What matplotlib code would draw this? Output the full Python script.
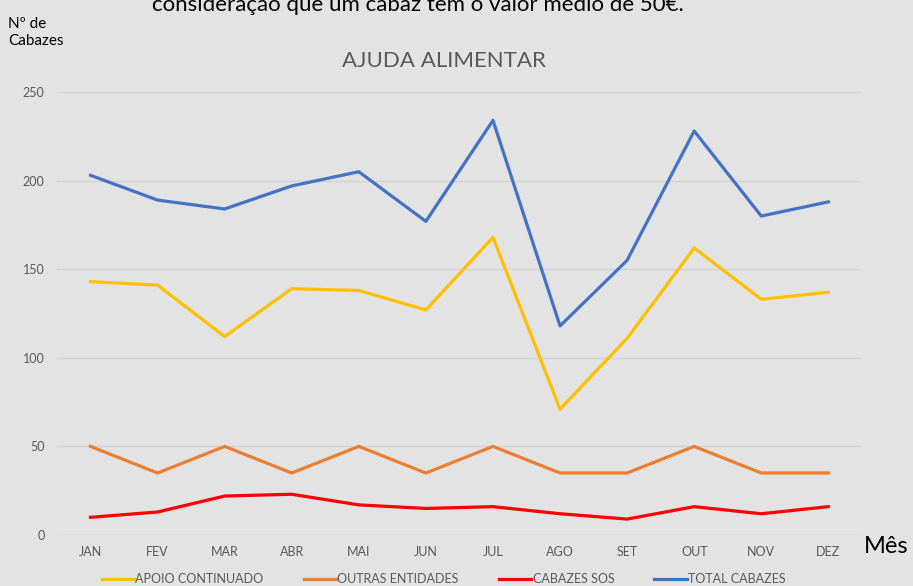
import matplotlib.pyplot as plt

meses = ['JAN', 'FEV', 'MAR', 'ABR', 'MAI', 'JUN', 'JUL', 'AGO', 'SET', 'OUT', 'NOV', 'DEZ']
apoio = [143, 141, 112, 139, 138, 127, 168, 71, 111, 162, 133, 137]
outras = [50, 35, 50, 35, 50, 35, 50, 35, 35, 50, 35, 35]
sos = [10, 13, 22, 23, 17, 15, 16, 12, 9, 16, 12, 16]
total = [203, 189, 184, 197, 205, 177, 234, 118, 155, 228, 180, 188]

plt.rcParams['font.family'] = ['Lato', 'DejaVu Sans']
bg = '#e3e3e3'

fig = plt.figure(figsize=(9.13, 5.86), dpi=100, facecolor=bg)
ax = fig.add_axes([0.0624, 0.087, 0.8816, 0.756], facecolor=bg)

x = range(len(meses))
ax.plot(x, apoio, color='#FFC000', lw=2.3, label='APOIO CONTINUADO')
ax.plot(x, outras, color='#ED7D31', lw=2.3, label='OUTRAS ENTIDADES')
ax.plot(x, sos, color='#FF0000', lw=2.3, label='CABAZES SOS')
ax.plot(x, total, color='#4472C4', lw=2.3, label='TOTAL CABAZES')

ax.set_xlim(-0.5, 11.5)
ax.set_ylim(0, 250)
ax.set_yticks(range(0, 251, 50))
ax.set_xticks(list(x))
ax.set_xticklabels(meses)
ax.grid(axis='y', color='#d3d3d3', lw=1)
ax.set_axisbelow(True)
for s in ax.spines.values():
    s.set_visible(False)
ax.tick_params(length=0, colors='#595959', labelsize=9)
ax.tick_params(axis='y', pad=9)
ax.tick_params(axis='x', pad=8)

fig.text(0.486, 0.896, 'AJUDA ALIMENTAR', ha='center', va='center', color='#595959', fontsize=16)
fig.text(0.458, 0.992, 'consideração que um cabaz tem o valor médio de 50€.', ha='center', va='center',
         fontsize=16, color='black')
fig.text(0.009, 0.945, 'Nº de\nCabazes', ha='left', va='center', fontsize=11, linespacing=1.3)
fig.text(0.946, 0.067, 'Mês', ha='left', va='center', fontsize=17)

fig.legend(loc='center', bbox_to_anchor=(0.486, 0.012), ncol=4, frameon=False,
           fontsize=9, handlelength=2.6, handletextpad=0.1, columnspacing=3.2,
           labelcolor='#595959')

fig.savefig('out.png', dpi=100, facecolor=bg)
